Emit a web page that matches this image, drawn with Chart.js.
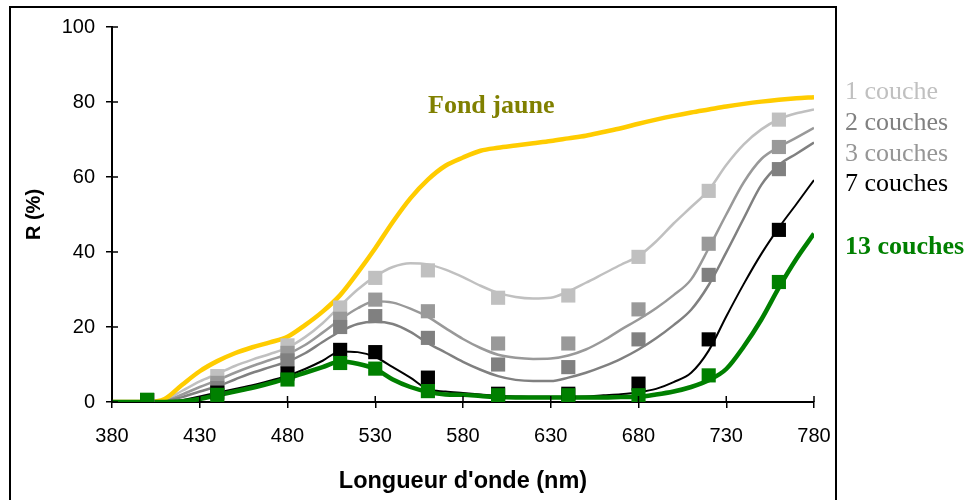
<!DOCTYPE html>
<html>
<head>
<meta charset="utf-8">
<script src="https://cdn.jsdelivr.net/npm/chart.js@4.4.0/dist/chart.umd.min.js"></script>
<style>
  body { margin: 0; background: #fff; }
</style>
</head>
<body>
<canvas id="myChart" width="967" height="500"></canvas>
<script>
const ctx = document.getElementById('myChart');

// spectres continus (pas de 10 nm)
const wavelengths = [380, 390, 400, 410, 420, 430, 440, 450, 460, 470,
                     480, 490, 500, 510, 520, 530, 540, 550, 560, 570,
                     580, 590, 600, 610, 620, 630, 640, 650, 660, 670,
                     680, 690, 700, 710, 720, 730, 740, 750, 760, 770, 780];
const fondJaune = [0, 0, 0, 0.8, 4.6, 8.2, 10.9, 13, 14.6, 15.9,
                   17.4, 20.5, 24.1, 28.5, 34.5, 41, 48, 54.3, 59.3, 63,
                   65.2, 67, 67.8, 68.4, 69, 69.6, 70.3, 71, 72, 73,
                   74.2, 75.3, 76.3, 77.2, 78, 78.8, 79.5, 80.1, 80.6, 81, 81.3];
const couche1 = [0, 0, 0, 0.5, 3, 5.5, 7.5, 9.6, 11.3, 12.8,
                 14.5, 17.3, 21, 25.6, 30, 33.5, 36, 37, 36.7, 35.3,
                 33.3, 31, 29.1, 28, 27.6, 27.8, 29.5, 31.8, 34.2, 36.6,
                 38.9, 42.8, 47.6, 52, 56.5, 63.2, 68.7, 72.7, 75.4, 77, 78];
const couches2 = [0, 0, 0, 0.3, 2, 4, 5.8, 7.8, 9.6, 11.2,
                  12.8, 15.2, 18.5, 22, 25, 26.9, 26.5, 24.9, 22.7, 19.7,
                  16.8, 14.4, 12.6, 11.8, 11.5, 11.6, 12.4, 14, 16.4, 19.3,
                  22, 25, 28.5, 32.7, 41, 50, 58.6, 64.8, 68, 70.5, 73.1];
const couches3 = [0, 0, 0, 0.2, 1.3, 2.8, 4.2, 6, 7.8, 9.3,
                  10.8, 13, 16, 18.8, 20.8, 21.4, 20.8, 18.7, 15.7, 13.2,
                  10.7, 8.6, 6.9, 5.9, 5.6, 5.6, 6.5, 7.8, 9.5, 11.5,
                  14, 17, 20.5, 24.6, 31.2, 39.9, 49, 57.9, 63.2, 66.2, 69.2];
const couches7 = [0, 0, 0, 0, 0.5, 1.5, 2.5, 3.5, 4.5, 5.7,
                  7, 8.8, 11, 13.5, 13.3, 12, 9.3, 6.5, 3.4, 2.8,
                  2.4, 2, 1.6, 1.5, 1.4, 1.4, 1.4, 1.5, 1.8, 2.1,
                  2.6, 3.5, 5.3, 7.8, 13.7, 22.8, 31.5, 39.5, 46.5, 52.8, 59.2];
const couches13 = [0, 0, 0, 0, 0.2, 0.8, 1.8, 2.8, 3.8, 5,
                   6.3, 7.8, 9.3, 10.8, 10.2, 8.8, 6, 4, 2.7, 2,
                   1.9, 1.6, 1.3, 1.2, 1.2, 1.2, 1.2, 1.2, 1.2, 1.3,
                   1.4, 2, 2.8, 4, 5.8, 8.8, 14.8, 22, 30.5, 38.2, 44.9];

// points mesures (carres)
const markerWavelengths = [400, 440, 480, 510, 530, 560, 600, 640, 680, 720, 760];
const mesure1 = [0.5, 6.9, 15.1, 25.2, 33.1, 35.1, 27.8, 28.4, 38.7, 56.3, 75.3];
const mesure2 = [0.5, 5.1, 13.1, 22.2, 27.3, 24.2, 15.6, 15.6, 24.7, 42.2, 68];
const mesure3 = [0.5, 3.7, 11.1, 20, 22.9, 17.1, 10, 9.3, 16.7, 33.9, 62.1];
const mesure7 = [0.5, 2.5, 7.6, 13.9, 13.3, 6.5, 2.2, 2.2, 4.9, 16.7, 45.9];
const mesure13 = [0.6, 1.9, 6.0, 10.4, 8.9, 2.9, 1.8, 1.8, 1.8, 7.1, 32];

const xTicks = [380, 430, 480, 530, 580, 630, 680, 730, 780];
const yTicks = [0, 20, 40, 60, 80, 100];

function pts(xs, ys) {
    return xs.map((x, i) => ({ x: x, y: ys[i] }));
}

function lineSet(label, values, color, width, order) {
    return {
        label: label,
        data: pts(wavelengths, values),
        showLine: true,
        borderColor: color,
        borderWidth: width,
        pointRadius: 0,
        cubicInterpolationMode: 'monotone',
        order: order
    };
}

function markerSet(label, values, color, order) {
    return {
        label: label,
        data: pts(markerWavelengths, values),
        showLine: false,
        pointStyle: 'rect',
        pointRadius: 10,
        pointBorderWidth: 0,
        backgroundColor: color,
        borderColor: color,
        order: order
    };
}

const decor = {
    id: 'decor',
    afterDraw(chart) {
        const c = chart.ctx;
        const xs = chart.scales.x;
        const ys = chart.scales.y;
        c.save();
        // partie interieure des graduations (croisees)
        c.strokeStyle = '#000';
        c.lineWidth = 1.5;
        yTicks.forEach(v => {
            const p = ys.getPixelForValue(v);
            c.beginPath(); c.moveTo(xs.left, p); c.lineTo(xs.left + 6, p); c.stroke();
        });
        xTicks.forEach(v => {
            const p = xs.getPixelForValue(v);
            c.beginPath(); c.moveTo(p, ys.bottom); c.lineTo(p, ys.bottom - 6); c.stroke();
        });
        // cadre
        c.lineWidth = 2;
        c.strokeRect(10, 7, 826, 520);
        // textes
        c.textAlign = 'left';
        c.textBaseline = 'alphabetic';
        c.font = 'bold 26px "Liberation Serif"';
        c.fillStyle = '#808000';
        c.fillText('Fond jaune', 428, 113);
        c.font = '26px "Liberation Serif"';
        c.fillStyle = '#C0C0C0';
        c.fillText('1 couche', 845, 99);
        c.fillStyle = '#808080';
        c.fillText('2 couches', 845, 130);
        c.fillStyle = '#969696';
        c.fillText('3 couches', 845, 161);
        c.fillStyle = '#000000';
        c.fillText('7 couches', 845, 191);
        c.font = 'bold 26px "Liberation Serif"';
        c.fillStyle = '#008000';
        c.fillText('13 couches', 845, 254);
        c.restore();
    }
};

const myChart = new Chart(ctx, {
    type: 'scatter',
    data: {
        datasets: [
            markerSet('13 couches', mesure13, '#008000', 1),
            markerSet('7 couches', mesure7, '#000000', 2),
            markerSet('3 couches', mesure3, '#808080', 3),
            markerSet('2 couches', mesure2, '#999999', 4),
            markerSet('1 couche', mesure1, '#C0C0C0', 5),
            lineSet('13 couches', couches13, '#008000', 4.5, 6),
            lineSet('Fond jaune', fondJaune, '#FFCC00', 4.5, 7),
            lineSet('7 couches', couches7, '#000000', 2, 8),
            lineSet('3 couches', couches3, '#808080', 2.5, 9),
            lineSet('2 couches', couches2, '#999999', 2.5, 10),
            lineSet('1 couche', couche1, '#C0C0C0', 2.5, 11)
        ]
    },
    options: {
        responsive: false,
        animation: false,
        layout: {
            padding: { left: 0, top: 27, right: 153, bottom: 0 }
        },
        plugins: {
            legend: { display: false },
            tooltip: { enabled: false }
        },
        scales: {
            x: {
                type: 'linear',
                min: 380,
                max: 780,
                afterBuildTicks: s => { s.ticks = xTicks.map(v => ({ value: v })); },
                afterFit: s => { s.height = 98; },
                grid: { display: true, drawOnChartArea: false, tickLength: 6, color: '#000', lineWidth: 1.5 },
                border: { display: true, color: '#000', width: 2 },
                ticks: {
                    color: '#000',
                    padding: 16,
                    maxRotation: 0,
                    font: { family: '"Liberation Sans"', size: 20 }
                },
                title: {
                    display: true,
                    text: "Longueur d'onde (nm)",
                    color: '#000',
                    padding: { top: 19 },
                    font: { family: '"Liberation Sans"', size: 23.5, weight: 'bold' }
                }
            },
            y: {
                min: 0,
                max: 100,
                afterBuildTicks: s => { s.ticks = yTicks.map(v => ({ value: v })); },
                afterFit: s => { s.width = 112; },
                grid: { display: true, drawOnChartArea: false, tickLength: 6, color: '#000', lineWidth: 1.5 },
                border: { display: true, color: '#000', width: 2 },
                ticks: {
                    color: '#000',
                    padding: 11,
                    font: { family: '"Liberation Sans"', size: 20 }
                },
                title: {
                    display: true,
                    text: 'R (%)',
                    color: '#000',
                    padding: { top: 22 },
                    font: { family: '"Liberation Sans"', size: 20, weight: 'bold' }
                }
            }
        }
    },
    plugins: [decor]
});
</script>
</body>
</html>
